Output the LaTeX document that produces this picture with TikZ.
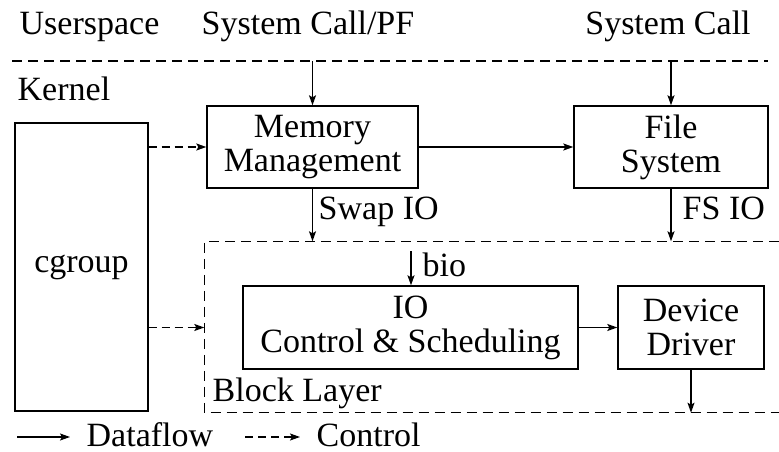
\documentclass[tikz,border=0pt]{standalone}
\usepackage{fontspec}
\setmainfont{Liberation Serif}
\usetikzlibrary{arrows.meta}
\begin{document}
\begin{tikzpicture}[x=1pt,y=-1pt,
  font=\fontsize{34}{34}\selectfont,
  every path/.style={line width=1.4pt},
  box/.style={draw,line width=1.4pt,rectangle,inner sep=0pt,align=center},
  txt/.style={inner sep=0pt},
  flow/.style={-{Stealth[length=10pt,width=7pt,inset=2pt]}},
  ctrl/.style={flow,dash pattern=on 8pt off 5pt},
  sep/.style={dash pattern=on 10pt off 6pt}]
\useasboundingbox (0,0) rectangle (779,452);
% text labels
\node[txt,anchor=base west] (user) at (19,35) {Userspace};
\node[txt,anchor=base] (scpf) at (308,35) {System Call/PF};
\node[txt,anchor=base] (sc) at (668,35) {System Call};
\node[txt,anchor=base west] (kern) at (17,100) {Kernel};
% separator
\coordinate (sepL) at (12,61);
\coordinate (sepR) at (768,61);
\draw[sep] (sepL) -- (sepR);
% boxes
\node[box,minimum width=211pt,minimum height=82pt] (mem) at (312.5,147) {Memory\\Management};
\node[box,minimum width=194pt,minimum height=82pt] (fs) at (671,147) {File\\System};
\node[box,minimum width=133pt,minimum height=288pt] (cg) at (81.5,267) {cgroup};
\node[box,minimum width=335pt,minimum height=83pt] (io) at (410.5,327.5) {IO\\Control \& Scheduling};
\node[box,minimum width=146pt,minimum height=83pt] (dd) at (691,327.5) {Device\\Driver};
% block layer region
\node[inner sep=0pt,minimum width=573pt,minimum height=170pt] (bl) at (491.5,327) {};
\draw[sep] (bl.north east) -- (bl.north west) -- (bl.south west) -- (bl.south east);
\node[txt,anchor=base west] (bll) at (212,401) {Block Layer};
% arrows
\draw[flow] (mem.north |- sepL) -- (mem.north);
\draw[flow] (fs.north |- sepL) -- (fs.north);
\draw[flow] (mem.east) -- (fs.west);
\draw[flow] (mem.south) -- (mem.south |- bl.north);
\draw[flow] (fs.south) -- (fs.south |- bl.north);
\node[txt,anchor=base west] (swap) at (318,219) {Swap IO};
\node[txt,anchor=base west] (fsio) at (682,219) {FS IO};
\coordinate (bioS) at (411,251);
\draw[flow] (bioS) -- (bioS |- io.north);
\node[txt,anchor=base west] (bio) at (422,276) {bio};
\draw[flow] (io.east) -- (dd.west);
\draw[flow] (dd.south) -- (dd.south |- bl.south);
\draw[ctrl] (cg.east |- mem.east) -- (mem.west);
\draw[ctrl] (cg.east |- io.east) -- (bl.west |- io.east);
% legend
\coordinate (la) at (17,437);
\coordinate (lb) at (70,437);
\draw[flow] (la) -- (lb);
\node[txt,anchor=base west] (df) at (86,446) {Dataflow};
\coordinate (lc) at (245,437);
\coordinate (ld) at (300,437);
\draw[ctrl] (lc) -- (ld);
\node[txt,anchor=base west] (ct) at (316,446) {Control};
\end{tikzpicture}
\end{document}
